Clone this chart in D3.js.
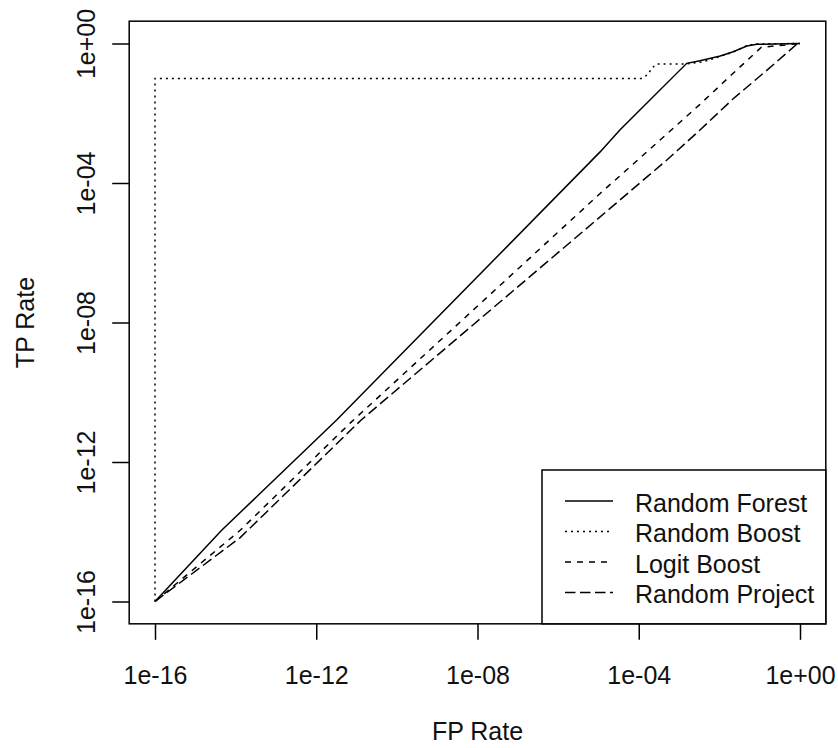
<!DOCTYPE html>
<html>

<head>
  <title>ROC curves (log-log)</title>
  <script src="https://cdn.jsdelivr.net/npm/d3@7"></script>
  <style>
    body {
      margin: 0;
      background: #fff;
    }

    text {
      font-family: "Liberation Sans", Arial, sans-serif;
      font-size: 25px;
      fill: #111;
    }

    .curve {
      fill: none;
      stroke: #000;
      stroke-width: 1.5px;
    }
  </style>
</head>

<body>
  <div id="chart"></div>
  <script>
    // values (log-log ROC)
    const rfFP = [1e-16, 4.5e-15, 3.2e-12, 1.1e-5, 3.4e-5, 1.55e-3, 3.3e-3, 1.05e-2, 2.2e-2, 4.8e-2, 8.5e-2, 1];
    const rfTP = [1e-16, 1.1e-14, 1.6e-11, 7.8e-4, 3.3e-3, 0.27, 0.32, 0.44, 0.58, 0.85, 0.95, 1];

    const rbFP = [1e-16, 1e-16, 1.2e-4, 1.7e-4, 2.1e-4, 2.8e-4, 1.55e-3, 4e-3, 1e-2, 2.2e-2, 4.8e-2, 8.5e-2, 1];
    const rbTP = [1e-16, 0.1, 0.1, 0.13, 0.195, 0.26, 0.26, 0.3, 0.42, 0.57, 0.87, 0.97, 1];

    const lbFP = [1e-16, 1.3e-14, 6.9e-12, 1.1e-5, 4.9e-4, 3.3e-3, 2.2e-2, 0.11, 1];
    const lbTP = [1e-16, 1.1e-14, 1.3e-11, 5e-5, 2.5e-3, 1.8e-2, 0.14, 0.78, 1];

    const rpFP = [1e-16, 1.3e-14, 1.3e-11, 1.45e-5, 4.9e-4, 3.3e-3, 2.2e-2, 0.15, 0.83, 1];
    const rpTP = [1e-16, 6.8e-15, 1.6e-11, 1.4e-5, 4.5e-4, 3.3e-3, 2.6e-2, 0.17, 0.95, 1];

    const seriesNames = ["Random Forest", "Random Boost", "Logit Boost", "Random Project"];
    const tickValues = [1e-16, 1e-12, 1e-8, 1e-4, 1];
    const tickLabels = ["1e-16", "1e-12", "1e-08", "1e-04", "1e+00"];

    const dashes = ["none", "2,4", "6,6", "10.5,4.5"];
    const series = [
      [rfFP, rfTP], [rbFP, rbTP], [lbFP, lbTP], [rpFP, rpTP]
    ].map(([fp, tp], i) => ({
      name: seriesNames[i],
      dash: dashes[i],
      pts: fp.map((f, j) => [f, tp[j]])
    }));

    const width = 838, height = 748;

    const x = d3.scaleLog().domain([1e-16, 1]).range([155, 800]);
    const y = d3.scaleLog().domain([1e-16, 1]).range([601.5, 43.5]);

    // R pads the range by 4% on each side
    const x0 = x(10 ** -16.64), x1 = x(10 ** 0.64);
    const y0 = y(10 ** -16.64), y1 = y(10 ** 0.64);

    const svg = d3.select("#chart").append("svg")
      .attr("width", width)
      .attr("height", height);

    const fmt = d => tickLabels[tickValues.indexOf(d)];

    // x axis
    const gx = svg.append("g")
      .attr("transform", `translate(0,${y0})`)
      .call(d3.axisBottom(x).tickValues(tickValues).tickFormat(fmt)
        .tickSize(16).tickPadding(26));
    gx.select(".domain").remove();
    gx.selectAll("line").attr("stroke", "#000").attr("stroke-width", 1.5);
    gx.selectAll("text").attr("font-size", null).attr("font-family", null).attr("fill", null);

    // y axis, labels rotated as in R
    const gy = svg.append("g")
      .attr("transform", `translate(${x0},0)`)
      .call(d3.axisLeft(y).tickValues(tickValues).tickFormat(fmt).tickSize(17));
    gy.select(".domain").remove();
    gy.selectAll("line").attr("stroke", "#000").attr("stroke-width", 1.5);
    gy.selectAll("text")
      .attr("font-size", null).attr("font-family", null).attr("fill", null)
      .attr("transform", "rotate(-90)")
      .attr("x", 0)
      .attr("y", -34)
      .attr("dy", 0)
      .attr("text-anchor", "middle");

    // curves
    const line = d3.line().x(d => x(d[0])).y(d => y(d[1]));
    svg.append("g").selectAll("path")
      .data(series)
      .enter().append("path")
      .attr("class", "curve")
      .attr("stroke-dasharray", d => d.dash)
      .attr("d", d => line(d.pts));

    // plot box
    svg.append("rect")
      .attr("x", x0).attr("y", y1)
      .attr("width", x1 - x0).attr("height", y0 - y1)
      .attr("fill", "none").attr("stroke", "#000").attr("stroke-width", 1.5);

    // axis titles
    svg.append("text")
      .attr("x", (x0 + x1) / 2).attr("y", 740)
      .attr("text-anchor", "middle")
      .text("FP Rate");
    svg.append("text")
      .attr("transform", `translate(34,${(y0 + y1) / 2}) rotate(-90)`)
      .attr("text-anchor", "middle")
      .text("TP Rate");

    // legend
    const lg = svg.append("g");
    lg.append("rect")
      .attr("x", 542).attr("y", 470)
      .attr("width", x1 - 542).attr("height", y0 - 470)
      .attr("fill", "#fff").attr("stroke", "#000").attr("stroke-width", 1.5);
    const row = lg.selectAll("g.row")
      .data(series)
      .enter().append("g")
      .attr("class", "row")
      .attr("transform", (d, i) => `translate(0,${511.5 + i * 30.5})`);
    row.append("line")
      .attr("class", "curve")
      .attr("x1", 565).attr("x2", 613)
      .attr("y1", -10.5).attr("y2", -10.5)
      .attr("stroke-dasharray", d => d.dash);
    row.append("text")
      .attr("x", 635)
      .text(d => d.name);
  </script>
</body>

</html>
